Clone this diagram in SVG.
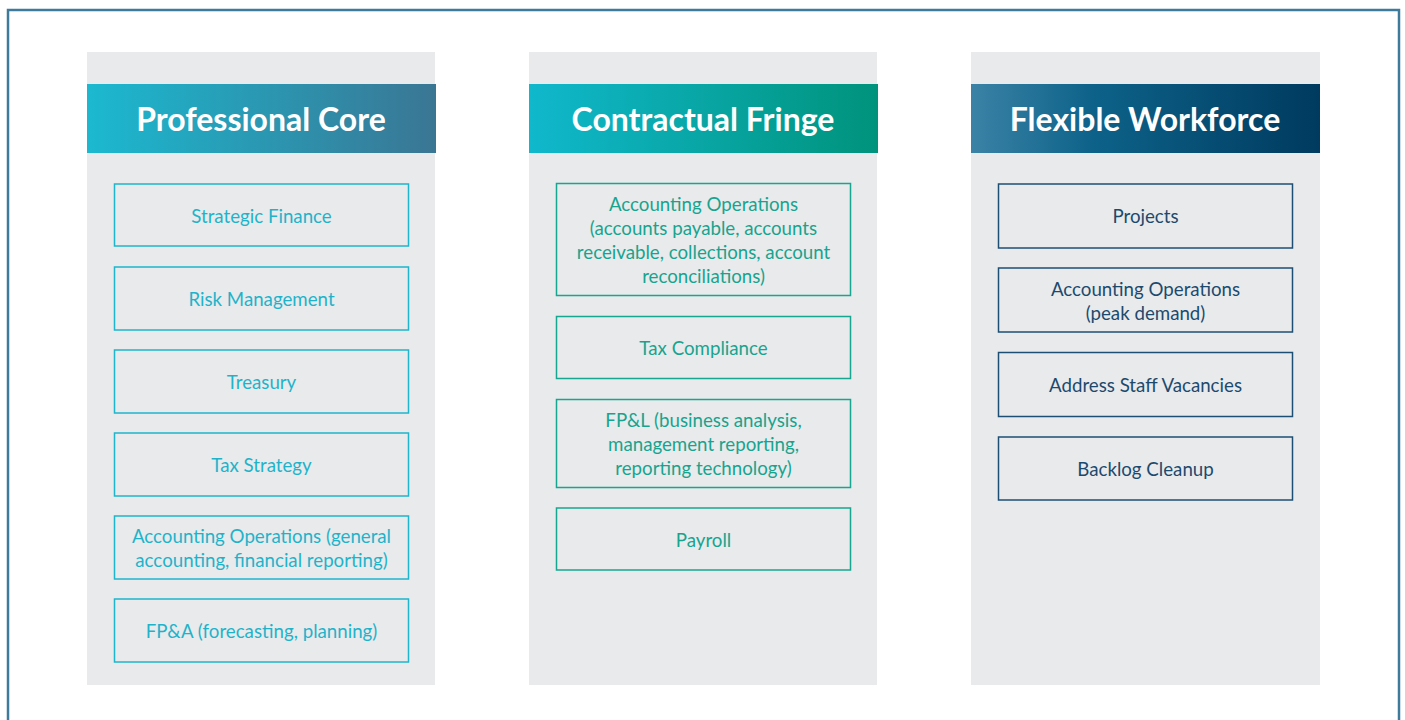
<svg xmlns="http://www.w3.org/2000/svg" width="1405" height="720" viewBox="0 0 1405 720">
  <defs>
    <linearGradient id="gCore" x1="0" y1="0" x2="1" y2="0">
      <stop offset="0" stop-color="#1bb9d0"/>
      <stop offset="1" stop-color="#3a7694"/>
    </linearGradient>
    <linearGradient id="gFringe" x1="0" y1="0" x2="1" y2="0">
      <stop offset="0" stop-color="#10b8cc"/>
      <stop offset="1" stop-color="#00937c"/>
    </linearGradient>
    <linearGradient id="gFlex" x1="0" y1="0" x2="1" y2="0">
      <stop offset="0" stop-color="#3b82a6"/>
      <stop offset="0.35" stop-color="#0d6289"/>
      <stop offset="1" stop-color="#003a5f"/>
    </linearGradient>
    <style>
      .panel { fill: #e9eaec; }
      .hdr { font-family: Lato, "Liberation Sans", sans-serif; font-weight: bold; font-size: 32px; fill: #ffffff; text-anchor: middle; }
      .item { font-family: Lato, "Liberation Sans", sans-serif; font-size: 18.7px; text-anchor: middle; }
      .box { fill: none; stroke-width: 1.5; }
      .core .box { stroke: #1fb5cc; }
      .core .item { fill: #1fb3ca; }
      .fringe .box { stroke: #17a690; }
      .fringe .item { fill: #17a48e; }
      .flex .box { stroke: #1d4f74; }
      .flex .item { fill: #1c4a6e; }
    </style>
  </defs>

  <rect x="0" y="0" width="1405" height="720" fill="#ffffff"/>
  <!-- outer frame -->
  <rect x="8" y="10" width="1391" height="720" fill="none" stroke="#3d7a9c" stroke-width="2.5"/>

  <!-- Professional Core column -->
  <g id="col-core" class="core">
    <rect class="panel" x="87" y="52" width="348" height="633"/>
    <rect x="87" y="84" width="349" height="69" fill="url(#gCore)"/>
    <text class="hdr" x="261" y="131">Professional Core</text>
    <g id="core-1"><rect class="box" x="114.5" y="184" width="294" height="62"/><text class="item" x="261.5" y="223">Strategic Finance</text></g>
    <g id="core-2"><rect class="box" x="114.5" y="267" width="294" height="63"/><text class="item" x="261.5" y="306">Risk Management</text></g>
    <g id="core-3"><rect class="box" x="114.5" y="350" width="294" height="63"/><text class="item" x="261.5" y="389">Treasury</text></g>
    <g id="core-4"><rect class="box" x="114.5" y="433" width="294" height="63"/><text class="item" x="261.5" y="472">Tax Strategy</text></g>
    <g id="core-5"><rect class="box" x="114.5" y="516" width="294" height="63"/><text class="item" x="261.5" y="543">Accounting Operations (general</text><text class="item" x="261.5" y="567">accounting, financial reporting)</text></g>
    <g id="core-6"><rect class="box" x="114.5" y="599" width="294" height="63"/><text class="item" x="261.5" y="638">FP&amp;A (forecasting, planning)</text></g>
  </g>

  <!-- Contractual Fringe column -->
  <g id="col-fringe" class="fringe">
    <rect class="panel" x="529" y="52" width="348" height="633"/>
    <rect x="529" y="84" width="349" height="69" fill="url(#gFringe)"/>
    <text class="hdr" x="703" y="131">Contractual Fringe</text>
    <g id="fringe-1"><rect class="box" x="556.5" y="183.5" width="294" height="112"/>
      <text class="item" x="703.5" y="211">Accounting Operations</text>
      <text class="item" x="703.5" y="235">(accounts payable, accounts</text>
      <text class="item" x="703.5" y="259">receivable, collections, account</text>
      <text class="item" x="703.5" y="283">reconciliations)</text></g>
    <g id="fringe-2"><rect class="box" x="556.5" y="316.5" width="294" height="62"/><text class="item" x="703.5" y="355">Tax Compliance</text></g>
    <g id="fringe-3"><rect class="box" x="556.5" y="399.5" width="294" height="88"/>
      <text class="item" x="703.5" y="427">FP&amp;L (business analysis,</text>
      <text class="item" x="703.5" y="451">management reporting,</text>
      <text class="item" x="703.5" y="475">reporting technology)</text></g>
    <g id="fringe-4"><rect class="box" x="556.5" y="508" width="294" height="62"/><text class="item" x="703.5" y="547">Payroll</text></g>
  </g>

  <!-- Flexible Workforce column -->
  <g id="col-flex" class="flex">
    <rect class="panel" x="971" y="52" width="349" height="633"/>
    <rect x="971" y="84" width="349" height="69" fill="url(#gFlex)"/>
    <text class="hdr" x="1145" y="131">Flexible Workforce</text>
    <g id="flex-1"><rect class="box" x="998.5" y="184" width="294" height="64"/><text class="item" x="1145.5" y="223">Projects</text></g>
    <g id="flex-2"><rect class="box" x="998.5" y="268" width="294" height="64"/><text class="item" x="1145.5" y="296">Accounting Operations</text><text class="item" x="1145.5" y="320">(peak demand)</text></g>
    <g id="flex-3"><rect class="box" x="998.5" y="352.5" width="294" height="64"/><text class="item" x="1145.5" y="392">Address Staff Vacancies</text></g>
    <g id="flex-4"><rect class="box" x="998.5" y="437" width="294" height="63"/><text class="item" x="1145.5" y="476">Backlog Cleanup</text></g>
  </g>
</svg>
